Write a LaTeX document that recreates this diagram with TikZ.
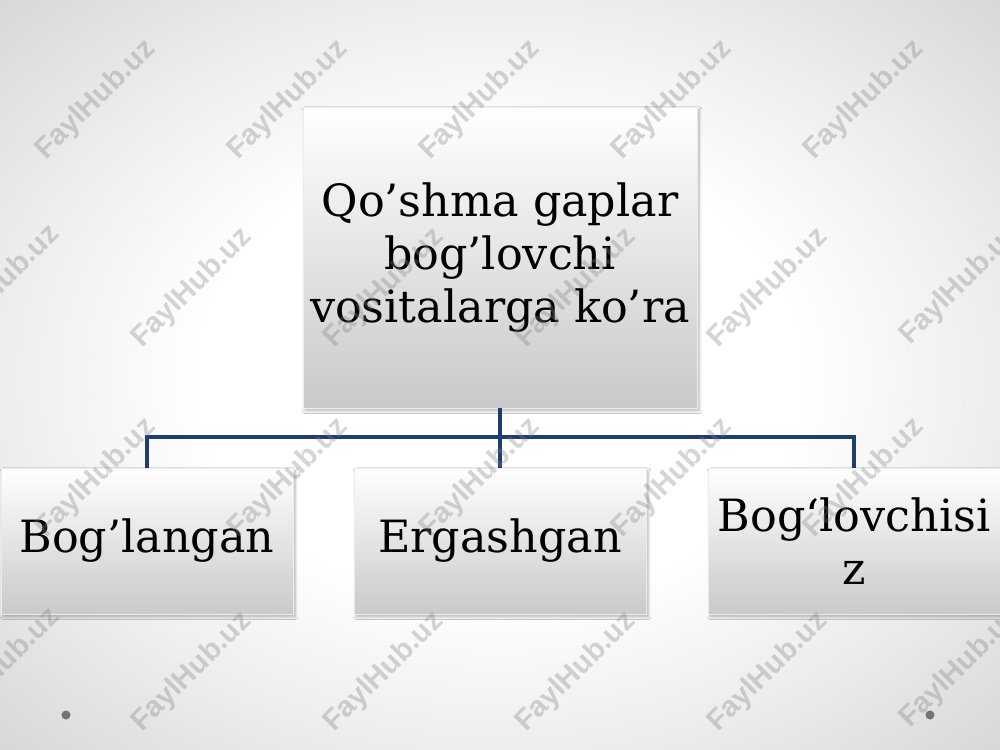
\documentclass[tikz,border=0pt]{standalone}
\usepackage{fontspec}
\setmainfont{DejaVu Serif}
\newfontfamily\wmfont{Liberation Sans}
\usetikzlibrary{shadows.blur}
\definecolor{connblue}{HTML}{1F3D6E}
\pgfdeclareradialshading{slidebg}{\pgfpoint{0bp}{0bp}}{color(0bp)=(white); color(15bp)=(white); color(25bp)=(gray!14); color(36bp)=(gray!32); color(50bp)=(gray!32)}
\begin{document}
\begin{tikzpicture}[x=0.72pt,y=-0.72pt,
  boxbase/.style={rectangle, inner sep=0pt, align=center, top color=white, bottom color=gray!42,
    draw=gray!15, line width=0.2pt,
    blur shadow={shadow xshift=1.5pt, shadow yshift=-2pt, shadow blur steps=6, shadow opacity=30},
    font=\fontsize{32}{38}\selectfont},
  topbox/.style={boxbase, minimum width=283.7pt, minimum height=216.7pt},
  lowbox/.style={boxbase, minimum width=210.2pt, minimum height=105.1pt},
  conn/.style={draw=connblue, line width=2.2pt, line join=miter},
  wm/.style={font=\wmfont\bfseries\fontsize{21}{21}\selectfont, text=gray, opacity=0.33, rotate=45, inner sep=0pt},
  dot/.style={circle, fill=gray!90!black, minimum size=6.5pt, inner sep=0pt}]
\useasboundingbox (0,0) rectangle (1000,750);
\shade[shading=slidebg] (0,0) rectangle (1000,750);

\node[topbox] (top) at (500,257.5) {Qo’shma gaplar\\bog’lovchi\\vositalarga ko’ra};
\node[lowbox] (left) at (147,541) {Bog’langan};
\node[lowbox] (mid) at (500,541) {Ergashgan};
\node[lowbox] (right) at (854,541) {Bog‘lovchisi\\z};

\coordinate (bus) at (500,437);
\draw[conn] (top.south) -- (mid.north);
\draw[conn] (left.north) |- (bus) -| (right.north);

\node[dot] (d1) at (66,715) {};
\node[dot] (d2) at (930,715) {};

\foreach \x/\y [count=\i] in {96/100,288/100,480/100,672/100,864/100,
  0/285,192/288,384/288,576/288,768/288,960/285,
  96/478,288/478,480/478,672/478,864/478,
  0/668,192/672,384/672,576/672,768/672,960/668}
  \node[wm] (wm\i) at (\x,\y) {FaylHub.uz};
\end{tikzpicture}
\end{document}
